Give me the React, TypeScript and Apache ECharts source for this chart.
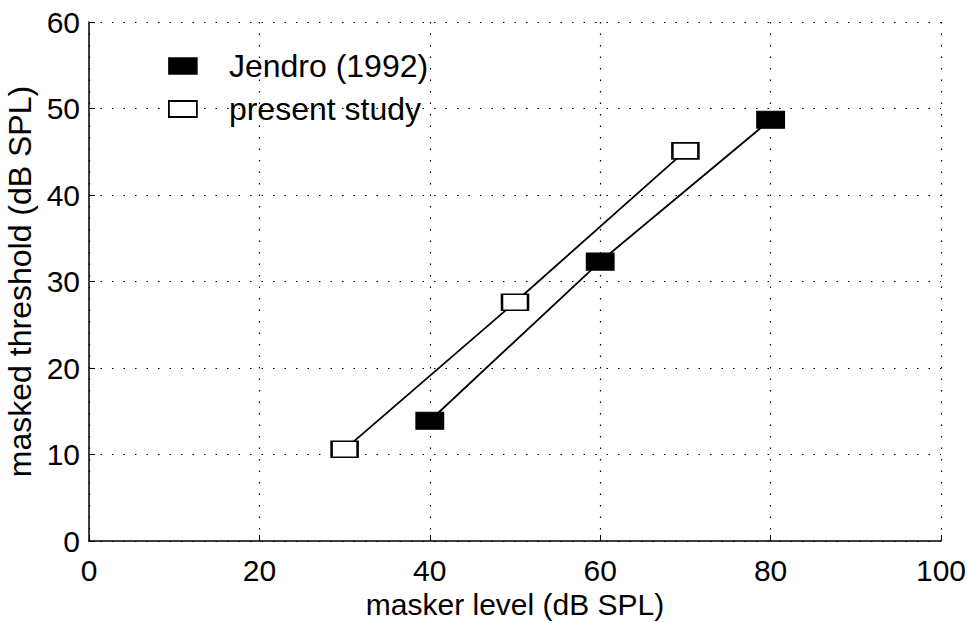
import React, { useEffect, useRef } from "react";
import * as echarts from "echarts";

// Masker level (dB SPL) and masked threshold (dB SPL) for each data set
const jendroLevels = [40, 60, 80];
const jendroThresholds = [13.9, 32.3, 48.7];
const presentLevels = [30, 50, 70];
const presentThresholds = [10.6, 27.6, 45.1];

const xTicks = [0, 20, 40, 60, 80, 100];
const yTicks = [0, 10, 20, 30, 40, 50, 60];

const FONT = "'Liberation Sans', Arial, Helvetica, sans-serif";

const toPairs = (xs: number[], ys: number[]) => xs.map((x, i) => [x, ys[i]]);

export default function App() {
  const ref = useRef<HTMLDivElement>(null);

  useEffect(() => {
    if (!ref.current) return;
    const chart = echarts.init(ref.current, undefined, { renderer: "svg" });

    const dotted = { color: "#000", width: 1.2, type: [1.5, 10] as number[] };

    chart.setOption({
      animation: false,
      backgroundColor: "#fff",
      textStyle: { fontFamily: FONT, color: "#000" },
      grid: {
        left: 89,
        top: 22,
        right: 28,
        bottom: 81,
        containLabel: false,
        outerBoundsMode: "none",
      },
      legend: {
        orient: "vertical",
        left: 163,
        top: 45,
        itemWidth: 28,
        itemHeight: 16,
        itemGap: 11,
        icon: "rect",
        textStyle: { fontSize: 32, color: "#000", fontFamily: FONT, padding: [0, 0, 0, 27] },
        data: [
          { name: "Jendro (1992)", itemStyle: { color: "#000", borderColor: "#000", borderWidth: 1.5 } },
          { name: "present study", itemStyle: { color: "#fff", borderColor: "#000", borderWidth: 1.8 } },
        ],
      },
      xAxis: {
        type: "value",
        min: xTicks[0],
        max: xTicks[xTicks.length - 1],
        interval: 20,
        name: "masker level (dB SPL)",
        nameLocation: "middle",
        nameGap: 46,
        nameTextStyle: { fontSize: 30, color: "#000", fontFamily: FONT },
        axisLine: { show: true, lineStyle: { color: "#000", width: 1.5 } },
        axisTick: { show: true, inside: true, length: 6, lineStyle: { color: "#000", width: 1 } },
        axisLabel: { fontSize: 30, color: "#000", margin: 14, fontFamily: FONT },
        splitLine: { show: true, lineStyle: dotted },
      },
      yAxis: {
        type: "value",
        min: yTicks[0],
        max: yTicks[yTicks.length - 1],
        interval: 10,
        name: "masked threshold (dB SPL)",
        nameLocation: "middle",
        nameGap: 52,
        nameTextStyle: { fontSize: 32, color: "#000", fontFamily: FONT },
        axisLine: { show: true, lineStyle: { color: "#000", width: 1.5 } },
        axisTick: { show: true, inside: true, length: 6, lineStyle: { color: "#000", width: 1 } },
        axisLabel: { fontSize: 30, color: "#000", margin: 9, fontFamily: FONT },
        splitLine: { show: true, lineStyle: dotted },
      },
      series: [
        {
          name: "Jendro (1992)",
          type: "line",
          data: toPairs(jendroLevels, jendroThresholds),
          symbol: "rect",
          symbolSize: [27, 17],
          showAllSymbol: true,
          lineStyle: { color: "#000", width: 1.8 },
          itemStyle: { color: "#000", borderColor: "#000", borderWidth: 1.5 },
          z: 3,
        },
        {
          name: "present study",
          type: "line",
          data: toPairs(presentLevels, presentThresholds),
          symbol: "rect",
          symbolSize: [26, 16],
          showAllSymbol: true,
          lineStyle: { color: "#000", width: 1.8 },
          itemStyle: { color: "#fff", borderColor: "#000", borderWidth: 2 },
          z: 3,
        },
      ],
    });

    return () => chart.dispose();
  }, []);

  return (
    <div
      ref={ref}
      style={{ position: "absolute", left: 0, top: 0, width: 969, height: 622, background: "#fff" }}
    />
  );
}
